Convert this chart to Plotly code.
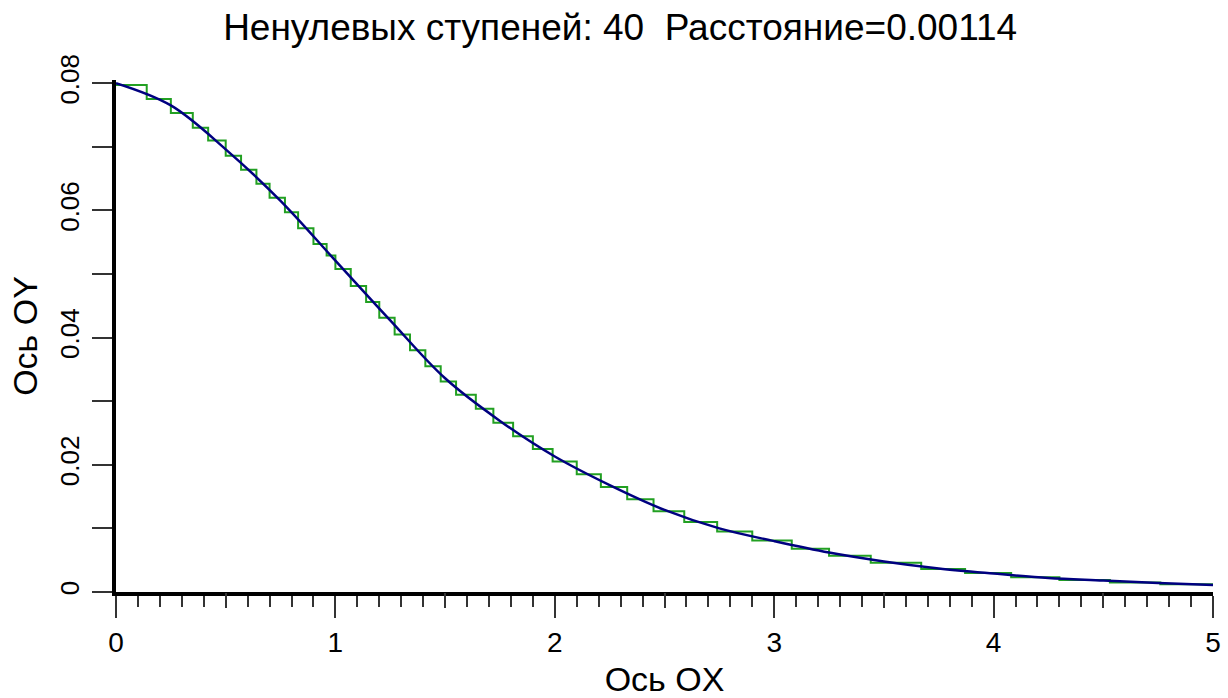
import plotly.graph_objects as go

# Smooth curve (blue)
curve_x = [0, 0.25, 0.5, 0.75, 1.0, 1.25, 1.5, 1.75, 2.0, 2.25, 2.5, 2.75,
           3.0, 3.25, 3.5, 3.75, 4.0, 4.25, 4.5, 4.75, 5.0]
curve_y = [0.0800, 0.0765, 0.0696, 0.0615, 0.0521, 0.0427, 0.0336, 0.0269,
           0.0213, 0.0168, 0.0129, 0.0100, 0.0080, 0.0062, 0.0048, 0.0037,
           0.0029, 0.0022, 0.0018, 0.0014, 0.0011]

# Step approximation (green): step edges and levels
step_edges = [0.00, 0.14, 0.25, 0.35, 0.42, 0.50, 0.57, 0.64, 0.70, 0.77,
              0.83, 0.90, 0.96, 1.00, 1.07, 1.14, 1.20, 1.27, 1.34, 1.41,
              1.48, 1.55, 1.64, 1.72, 1.81, 1.90, 1.99, 2.10, 2.21, 2.33,
              2.45, 2.59, 2.74, 2.90, 3.08, 3.25, 3.44, 3.67, 3.87, 4.08,
              4.30, 4.53, 4.76, 5.00]
step_levels = [0.0797, 0.0775, 0.0753, 0.0730, 0.0710, 0.0686, 0.0664, 0.0642,
               0.0620, 0.0597, 0.0572, 0.0547, 0.0529, 0.0508, 0.0481, 0.0456,
               0.0431, 0.0405, 0.0380, 0.0355, 0.0331, 0.0310, 0.0288, 0.0266,
               0.0245, 0.0225, 0.0205, 0.0185, 0.0165, 0.0146, 0.0127, 0.0110,
               0.0095, 0.0081, 0.0068, 0.0057, 0.0046, 0.0036, 0.0030, 0.0023,
               0.0019, 0.0015, 0.0012]

x_major_ticks = [0, 1, 2, 3, 4, 5]
x_half_ticks = [0.5, 1.5, 2.5, 3.5, 4.5]
y_major_ticks = [0, 0.02, 0.04, 0.06, 0.08]
y_tick_labels = ["0", "0.02", "0.04", "0.06", "0.08"]

title_text = "Ненулевых ступеней: 40  Расстояние=0.00114"
x_title = "Ось OX"
y_title = "Ось OY"

FONT = "Liberation Sans"

fig = go.Figure()
fig.add_trace(go.Scatter(
    x=step_edges, y=step_levels + [step_levels[-1]],
    mode="lines", line=dict(color="#22a022", width=2, shape="hv"),
    showlegend=False, hoverinfo="skip"))
fig.add_trace(go.Scatter(
    x=curve_x, y=curve_y, mode="lines",
    line=dict(color="#000080", width=2.5, shape="spline", smoothing=1.0),
    showlegend=False))
# invisible trace to carry the half-unit tick axis
fig.add_trace(go.Scatter(x=[0, 5], y=[0, 0], xaxis="x2", mode="lines",
                         line=dict(width=0), showlegend=False, hoverinfo="skip"))

fig.update_layout(
    width=1228, height=698,
    paper_bgcolor="white", plot_bgcolor="white",
    margin=dict(l=116, r=15, t=80, b=106, autoexpand=False),
    title=dict(text=title_text, x=0.505, xref="container",
               xanchor="center", y=1 - 27 / 698, yanchor="middle",
               font=dict(family=FONT, size=37, color="black")),
    xaxis=dict(range=[0, 5], tickvals=x_major_ticks, ticktext=[str(v) for v in x_major_ticks],
               ticks="outside", ticklen=22, tickwidth=1.5, tickcolor="#333",
               minor=dict(dtick=0.1, ticks="outside", ticklen=11, tickwidth=1.5, tickcolor="#333"),
               showline=True, linewidth=4, linecolor="black", showgrid=False, zeroline=False,
               tickfont=dict(family=FONT, size=28, color="black"),
               title=dict(text=x_title, font=dict(family=FONT, size=34, color="black"), standoff=12),
               automargin=False),
    xaxis2=dict(overlaying="x", matches="x", side="bottom", range=[0, 5],
                tickvals=x_half_ticks, ticks="outside", ticklen=15, tickwidth=1.5,
                tickcolor="#333", showticklabels=False, showline=False,
                showgrid=False, zeroline=False),
    yaxis=dict(range=[0, 0.0805], tickvals=y_major_ticks, ticktext=y_tick_labels,
               tickangle=-90, ticklabelstandoff=3,
               ticks="outside", ticklen=20, tickwidth=1.5, tickcolor="#333",
               minor=dict(dtick=0.01, ticks="outside", ticklen=20, tickwidth=1.5, tickcolor="#333"),
               showline=True, linewidth=4, linecolor="black", showgrid=False, zeroline=False,
               tickfont=dict(family=FONT, size=26, color="black"),
               title=dict(text=y_title, font=dict(family=FONT, size=34, color="black"), standoff=8),
               automargin=False),
)

fig.write_html("out.html", config={"displayModeBar": False},
               post_script="document.body.style.margin='0px';document.body.style.padding='0px';")
